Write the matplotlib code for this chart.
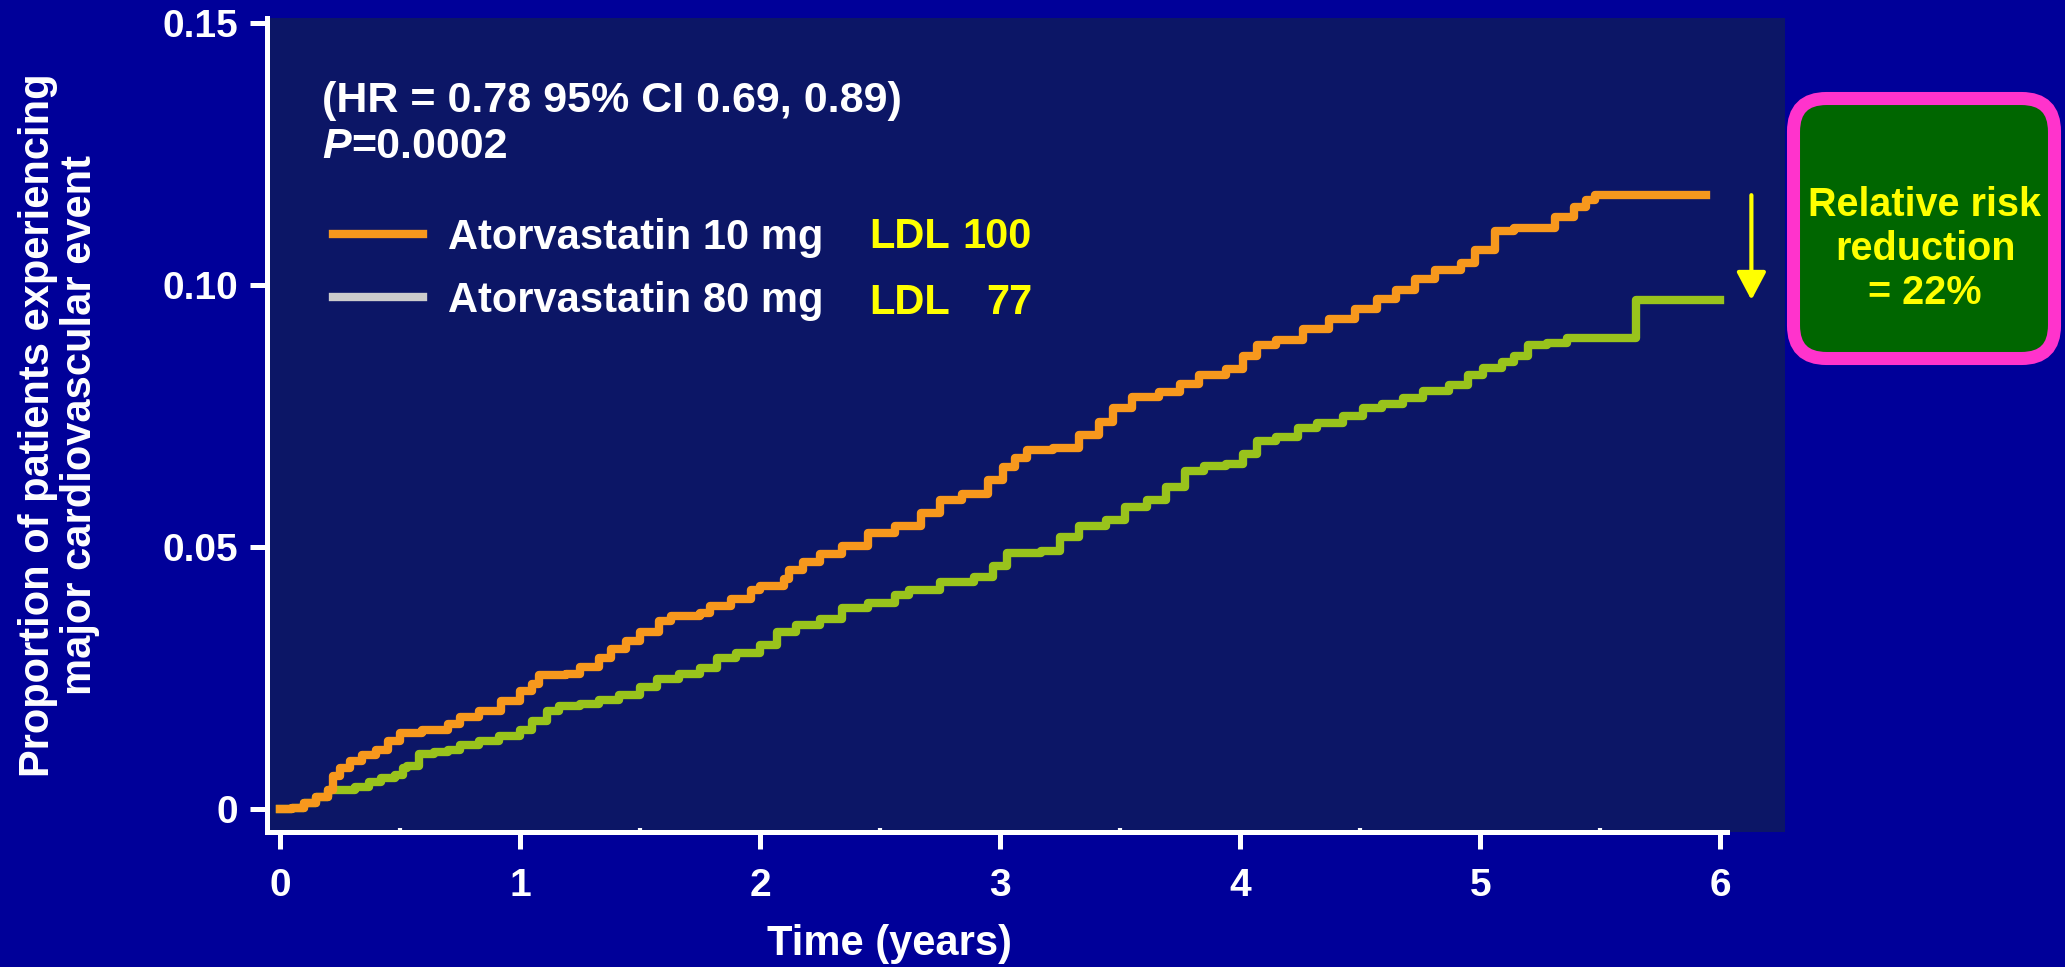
import matplotlib
matplotlib.use("Agg")
import matplotlib.pyplot as plt
from matplotlib.lines import Line2D
from matplotlib.patches import FancyBboxPatch
from matplotlib.ticker import MultipleLocator

# Kaplan-Meier style curves (years, proportion)
t_10mg = [0.00, 0.05, 0.10, 0.15, 0.20, 0.22, 0.25, 0.29, 0.34, 0.40, 0.45, 0.50,
          0.59, 0.70, 0.75, 0.83, 0.92, 1.00, 1.05, 1.08, 1.19, 1.25, 1.33, 1.38,
          1.44, 1.50, 1.58, 1.63, 1.75, 1.79, 1.88, 1.96, 2.00, 2.10, 2.12, 2.18,
          2.25, 2.34, 2.45, 2.56, 2.67, 2.75, 2.84, 2.95, 3.01, 3.06, 3.11, 3.22,
          3.33, 3.41, 3.47, 3.55, 3.66, 3.75, 3.83, 3.94, 4.01, 4.07, 4.15, 4.26,
          4.37, 4.48, 4.57, 4.65, 4.73, 4.81, 4.92, 4.98, 5.06, 5.14, 5.25, 5.31,
          5.39, 5.44, 5.48, 5.94]
p_10mg = [0.0000, 0.0003, 0.0013, 0.0023, 0.0038, 0.0063, 0.0080, 0.0093, 0.0103, 0.0113, 0.0131, 0.0146,
          0.0151, 0.0163, 0.0176, 0.0188, 0.0206, 0.0226, 0.0239, 0.0256, 0.0259, 0.0271, 0.0289, 0.0306,
          0.0321, 0.0339, 0.0359, 0.0369, 0.0374, 0.0389, 0.0402, 0.0419, 0.0427, 0.0439, 0.0457, 0.0472,
          0.0487, 0.0502, 0.0527, 0.0540, 0.0565, 0.0590, 0.0602, 0.0628, 0.0653, 0.0670, 0.0685, 0.0690,
          0.0715, 0.0740, 0.0766, 0.0786, 0.0796, 0.0811, 0.0828, 0.0841, 0.0866, 0.0886, 0.0896, 0.0916,
          0.0936, 0.0954, 0.0974, 0.0991, 0.1012, 0.1029, 0.1042, 0.1067, 0.1104, 0.1109, 0.1109, 0.1130,
          0.1150, 0.1162, 0.1172, 0.1172]

# the first few months of the 80 mg curve run underneath the 10 mg curve
t_80mg = [0.00, 0.05, 0.10, 0.15, 0.20, 0.26, 0.31, 0.37, 0.42, 0.48, 0.51, 0.53, 0.58, 0.64, 0.70,
          0.75, 0.83, 0.91, 1.00, 1.05, 1.11, 1.16, 1.25, 1.33, 1.41, 1.50, 1.57,
          1.66, 1.75, 1.82, 1.90, 2.00, 2.07, 2.15, 2.25, 2.34, 2.45, 2.56, 2.62,
          2.75, 2.89, 2.97, 3.03, 3.17, 3.25, 3.33, 3.44, 3.52, 3.61, 3.69, 3.77,
          3.85, 3.94, 4.01, 4.07, 4.15, 4.24, 4.32, 4.43, 4.51, 4.59, 4.68, 4.76,
          4.87, 4.95, 5.01, 5.09, 5.14, 5.20, 5.28, 5.36, 5.65, 6.00]
p_80mg = [0.0000, 0.0003, 0.0013, 0.0023, 0.0038, 0.0038, 0.0043, 0.0053, 0.0060, 0.0065, 0.0080, 0.0083,
          0.0105, 0.0110, 0.0113,
          0.0123, 0.0131, 0.0141, 0.0151, 0.0168, 0.0188, 0.0198, 0.0201, 0.0208, 0.0218, 0.0233, 0.0249,
          0.0259, 0.0269, 0.0289, 0.0299, 0.0314, 0.0339, 0.0352, 0.0364, 0.0384, 0.0394, 0.0409, 0.0419,
          0.0434, 0.0444, 0.0464, 0.0489, 0.0494, 0.0520, 0.0540, 0.0552, 0.0577, 0.0590, 0.0615, 0.0645,
          0.0655, 0.0660, 0.0678, 0.0703, 0.0710, 0.0728, 0.0738, 0.0750, 0.0765, 0.0773, 0.0785, 0.0798,
          0.0810, 0.0828, 0.0843, 0.0853, 0.0866, 0.0886, 0.0889, 0.0899, 0.0972, 0.0972]

series_labels = ["Atorvastatin 10 mg", "Atorvastatin 80 mg"]
ldl_values = ["100", "77"]
x_ticks = [0, 1, 2, 3, 4, 5, 6]
y_ticks = [0, 0.05, 0.10, 0.15]
y_ticklabels = ["0", "0.05", "0.10", "0.15"]
hr_text = "(HR = 0.78 95% CI 0.69, 0.89)"
p_value = "=0.0002"
rrr_text = "Relative risk\nreduction\n= 22%"

BG = "#000099"
PLOT_BG = "#0c1666"
ORANGE = "#f7981d"
GREEN = "#99c31c"
YELLOW = "#ffff00"

plt.rcParams["font.family"] = ["Liberation Sans", "DejaVu Sans"]
plt.rcParams["font.weight"] = "bold"

fig = plt.figure(figsize=(20.65, 9.67), dpi=100, facecolor=BG)
ax = fig.add_axes([0.1293, 0.1396, 0.7351, 0.8418])
ax.set_facecolor(PLOT_BG)

# green first so the orange curve sits on top
ax.plot(t_80mg, p_80mg, drawstyle="steps-post", color=GREEN, lw=6, zorder=3)
ax.plot(t_10mg, p_10mg, drawstyle="steps-post", color=ORANGE, lw=6, zorder=4)

ax.set_xlim(-0.055, 6.27)
ax.set_ylim(-0.0043, 0.151)

for side in ["top", "right"]:
    ax.spines[side].set_visible(False)
for side in ["left", "bottom"]:
    ax.spines[side].set_color("white")
    ax.spines[side].set_linewidth(3.6)
ax.spines["bottom"].set_bounds(-0.055, 6.03)

ax.set_xticks(x_ticks)
ax.set_yticks(y_ticks)
ax.set_yticklabels(y_ticklabels)
ax.xaxis.set_minor_locator(MultipleLocator(0.5))
ax.tick_params(axis="both", which="major", colors="white", length=12, width=3.6,
               labelsize=28, direction="out")
ax.tick_params(axis="x", which="major", pad=14)
ax.tick_params(axis="y", which="major", pad=9)
ax.tick_params(axis="x", which="minor", colors="white", length=3, width=3, direction="in")
for lab in ax.get_xticklabels() + ax.get_yticklabels():
    lab.set_fontweight("bold")

ax.set_xlabel("Time (years)", fontsize=30, color="white", fontweight="bold", va="center")
ax.xaxis.set_label_coords(0.41, -0.1375)
ax.set_ylabel("Proportion of patients experiencing\nmajor cardiovascular event",
              fontsize=30, color="white", fontweight="bold", va="center", ha="center",
              linespacing=1.05)
ax.yaxis.set_label_coords(-0.137, 0.5)

# HR and p value
ax.text(0.0365, 0.898, hr_text, transform=ax.transAxes, fontsize=31, color="white",
        fontweight="bold", va="center", ha="left")
ptxt = ax.text(0.0365, 0.841, "P", transform=ax.transAxes, fontsize=31, color="white",
               fontweight="bold", fontstyle="italic", va="center", ha="left")
ax.annotate(p_value, xy=(1, 0), xycoords=ptxt, fontsize=31, color="white",
            fontweight="bold", va="bottom", ha="left")

# legend (the 80 mg handle is grey in the original slide)
handles = [Line2D([], [], color=ORANGE, lw=6), Line2D([], [], color="#cccccc", lw=6)]
leg = ax.legend(handles, series_labels, loc="center left", bbox_to_anchor=(0.019, 0.691),
                frameon=False, handlelength=2.15, handletextpad=0.6,
                labelspacing=0.55, prop={"weight": "bold", "size": 30})
for txt in leg.get_texts():
    txt.set_color("white")

for i, v in enumerate(ldl_values):
    yy = [0.731, 0.650][i]
    ax.text(0.397, yy, "LDL", transform=ax.transAxes, fontsize=30, color=YELLOW,
            fontweight="bold", va="center", ha="left")
    ax.text(0.504, yy, v, transform=ax.transAxes, fontsize=30, color=YELLOW,
            fontweight="bold", va="center", ha="right")

# arrow from 10 mg end level down to 80 mg end level
ax.annotate("", xy=(6.13, p_80mg[-1]), xytext=(6.13, p_10mg[-1]),
            arrowprops=dict(arrowstyle="-|>,head_length=0.85,head_width=0.45",
                            color=YELLOW, lw=3, mutation_scale=20,
                            shrinkA=0, shrinkB=0))

# relative risk reduction box
box = FancyBboxPatch((17.935, 6.085), 2.61, 2.60, boxstyle="round,pad=0,rounding_size=0.33",
                     transform=fig.dpi_scale_trans, facecolor="#006600",
                     edgecolor="#ff33cc", linewidth=9.4)
fig.add_artist(box)
fig.text(19.25, 7.18, rrr_text, transform=fig.dpi_scale_trans, fontsize=28.5,
         color=YELLOW, fontweight="bold", ha="center", va="center", linespacing=1.2)

fig.savefig("out.png", dpi=100, facecolor=BG)
